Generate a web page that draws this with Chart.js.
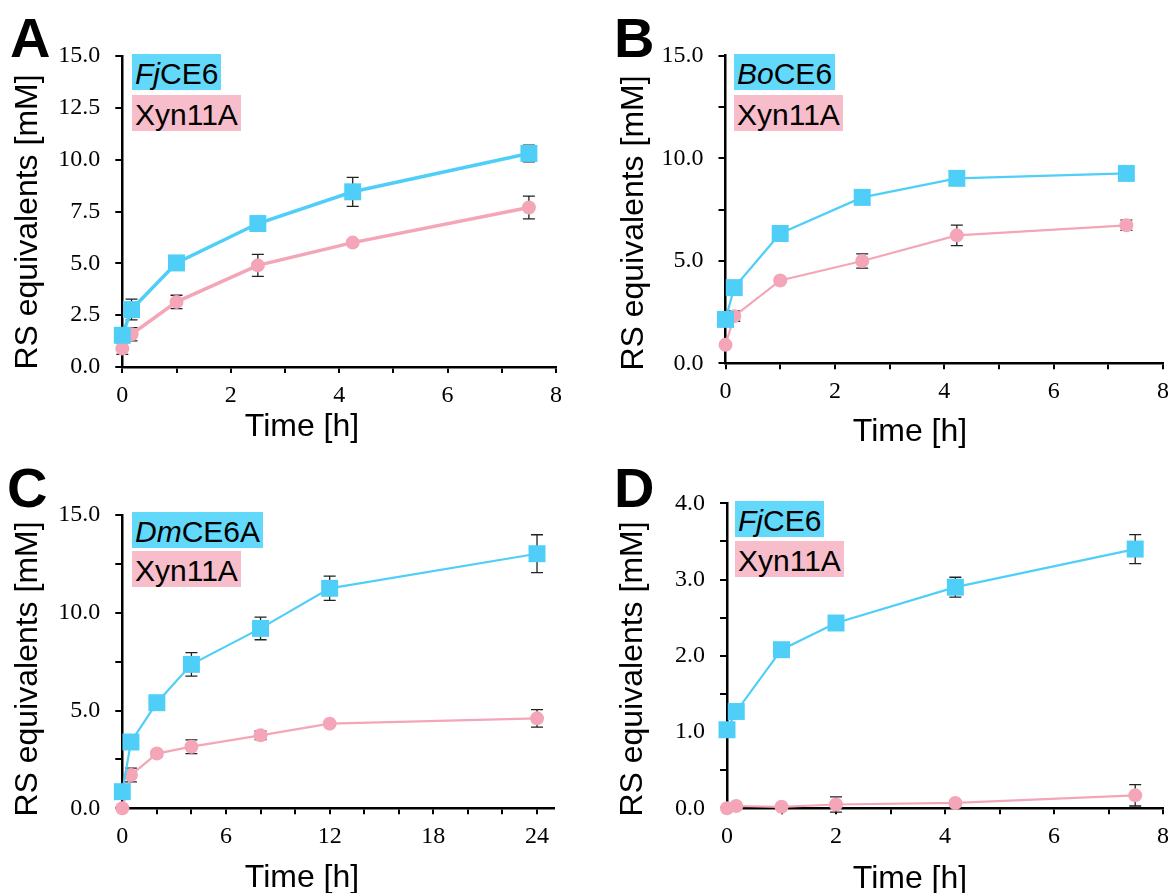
<!DOCTYPE html>
<html>
<head>
<meta charset="utf-8">
<script src="https://cdn.jsdelivr.net/npm/chart.js@4.4.1/dist/chart.umd.min.js"></script>
<style>
    body { margin: 0; background: #fff; }
    #page { position: relative; width: 1175px; height: 893px; overflow: hidden; background: #fff; }
    canvas { position: absolute; }
    .txt { position: absolute; font-family: "Liberation Sans", Arial, sans-serif; color: #000; white-space: nowrap; }
    .letter { font-size: 56px; font-weight: bold; line-height: 1; }
    .tag { font-size: 30px; line-height: 30px; padding: 5px 3px 1px 3px; }
    .blue { background: #62d9fb; }
    .pink { background: #f8bdca; }
    .ytitle { font-size: 32px; line-height: 1; transform: translate(-50%, -50%) rotate(-90deg); }
    .xtitle { font-size: 32px; line-height: 1; transform: translate(-50%, -50%); }
</style>
</head>
<body>
<div id="page">
    <canvas id="chartA" width="587" height="446" style="left:0;top:0"></canvas>
    <canvas id="chartB" width="588" height="446" style="left:587px;top:0"></canvas>
    <canvas id="chartC" width="587" height="447" style="left:0;top:446px"></canvas>
    <canvas id="chartD" width="588" height="447" style="left:587px;top:446px"></canvas>

    <div class="txt letter" style="left:10px;top:10px">A</div>
    <div class="txt letter" style="left:614px;top:10px">B</div>
    <div class="txt letter" style="left:7px;top:460px">C</div>
    <div class="txt letter" style="left:614px;top:460px">D</div>

    <div class="txt tag blue" style="left:132px;top:54px"><i>Fj</i>CE6</div>
    <div class="txt tag pink" style="left:132px;top:95px">Xyn11A</div>
    <div class="txt tag blue" style="left:734px;top:54px"><i>Bo</i>CE6</div>
    <div class="txt tag pink" style="left:734px;top:95px">Xyn11A</div>
    <div class="txt tag blue" style="left:132px;top:512px"><i>Dm</i>CE6A</div>
    <div class="txt tag pink" style="left:132px;top:551px">Xyn11A</div>
    <div class="txt tag blue" style="left:735px;top:501px"><i>Fj</i>CE6</div>
    <div class="txt tag pink" style="left:735px;top:541px">Xyn11A</div>

    <div class="txt ytitle" style="left:26px;top:222px">RS equivalents [mM]</div>
    <div class="txt ytitle" style="left:632px;top:223px">RS equivalents [mM]</div>
    <div class="txt ytitle" style="left:26px;top:669px">RS equivalents [mM]</div>
    <div class="txt ytitle" style="left:631px;top:669px">RS equivalents [mM]</div>

    <div class="txt xtitle" style="left:302px;top:425px">Time [h]</div>
    <div class="txt xtitle" style="left:910px;top:430px">Time [h]</div>
    <div class="txt xtitle" style="left:302px;top:876px">Time [h]</div>
    <div class="txt xtitle" style="left:910px;top:877px">Time [h]</div>
</div>

<script>
// panel A: FjCE6 vs Xyn11A
const timeA = [0, 0.17, 1, 2.5, 4.25, 7.5];
const fjA = [1.53, 2.77, 5.02, 6.92, 8.45, 10.3];
const fjAErr = [0.15, 0.5, 0.2, 0.2, 0.7, 0.4];
const xynA = [0.89, 1.58, 3.14, 4.9, 6.0, 7.69];
const xynAErr = [0.28, 0.32, 0.32, 0.53, 0.12, 0.55];

// panel B: BoCE6 vs Xyn11A
const timeB = [0, 0.16, 1, 2.5, 4.23, 7.33];
const boB = [2.14, 3.69, 6.33, 8.09, 9.02, 9.26];
const boBErr = [0.1, 0.15, 0.15, 0.15, 0.15, 0.1];
const xynB = [0.9, 2.3, 4.04, 4.99, 6.24, 6.73];
const xynBErr = [0.1, 0.25, 0.12, 0.35, 0.5, 0.25];

// panel C: DmCE6A vs Xyn11A (24 h)
const timeC = [0, 0.5, 2, 4, 8, 12, 24];
const dmC = [0.85, 3.39, 5.4, 7.36, 9.2, 11.25, 13.02];
const dmCErr = [0.15, 0.2, 0.2, 0.6, 0.58, 0.62, 0.97];
const xynC = [0, 1.7, 2.8, 3.15, 3.73, 4.33, 4.6];
const xynCErr = [0, 0.35, 0.15, 0.35, 0.22, 0.1, 0.45];

// panel D: FjCE6 vs Xyn11A, low range
const timeD = [0, 0.17, 1, 2, 4.19, 7.49];
const fjD = [1.03, 1.27, 2.08, 2.43, 2.9, 3.4];
const fjDErr = [0.03, 0.03, 0.04, 0.04, 0.13, 0.19];
const xynD = [0, 0.03, 0.02, 0.05, 0.07, 0.17];
const xynDErr = [0, 0.01, 0.02, 0.1, 0.03, 0.14];

// ticks
const xTicks8 = [0, 1, 2, 3, 4, 5, 6, 7, 8];
const xLabels8 = ['0', '', '2', '', '4', '', '6', '', '8'];
const xTicks24 = [0, 2, 4, 6, 8, 10, 12, 14, 16, 18, 20, 22, 24];
const xLabels24 = ['0', '', '', '6', '', '', '12', '', '', '18', '', '', '24'];
const yTicks15 = [0, 2.5, 5, 7.5, 10, 12.5, 15];
const yLabelsA = ['0.0', '2.5', '5.0', '7.5', '10.0', '12.5', '15.0'];
const yLabels15 = ['0.0', '', '5.0', '', '10.0', '', '15.0'];
const yTicks4 = [0, 0.5, 1, 1.5, 2, 2.5, 3, 3.5, 4];
const yLabels4 = ['0.0', '', '1.0', '', '2.0', '', '3.0', '', '4.0'];

const BLUE = '#4fcff8';
const PINK = '#f4a6b8';

const errorBars = {
    id: 'errorBars',
    beforeDatasetsDraw(chart) {
        const ctx = chart.ctx;
        const yScale = chart.scales.y;
        ctx.save();
        ctx.strokeStyle = '#222';
        ctx.lineWidth = 1.3;
        chart.data.datasets.forEach((ds, i) => {
            const meta = chart.getDatasetMeta(i);
            meta.data.forEach((pt, j) => {
                const e = ds.errors[j];
                if (!e) return;
                const v = ds.data[j].y;
                const top = yScale.getPixelForValue(v + e);
                const bot = yScale.getPixelForValue(v - e);
                ctx.beginPath();
                ctx.moveTo(pt.x, top); ctx.lineTo(pt.x, bot);
                ctx.moveTo(pt.x - 6, top); ctx.lineTo(pt.x + 6, top);
                ctx.moveTo(pt.x - 6, bot); ctx.lineTo(pt.x + 6, bot);
                ctx.stroke();
            });
        });
        ctx.restore();
    }
};

function pts(xs, ys) {
    return xs.map((x, i) => ({ x: x, y: ys[i] }));
}

function makePanel(p) {
    const canvas = document.getElementById(p.id);
    const box = { left: canvas.offsetLeft, top: canvas.offsetTop, width: canvas.width, height: canvas.height };
    const tickFont = { family: "'Liberation Serif', 'Times New Roman', serif", size: 24 };

    new Chart(canvas.getContext('2d'), {
        type: 'line',
        data: {
            datasets: [
                {
                    data: pts(p.time, p.blue), errors: p.blueErr,
                    borderColor: BLUE, backgroundColor: BLUE, borderWidth: p.lw,
                    pointStyle: 'rect', pointRadius: 12, pointBackgroundColor: BLUE,
                    pointBorderWidth: 0, tension: 0, clip: false
                },
                {
                    data: pts(p.time, p.pink), errors: p.pinkErr,
                    borderColor: PINK, backgroundColor: PINK, borderWidth: p.lw,
                    pointStyle: 'circle', pointRadius: 7, pointBackgroundColor: PINK,
                    pointBorderWidth: 0, tension: 0, clip: false
                }
            ]
        },
        options: {
            responsive: false,
            animation: false,
            events: [],
            layout: {
                padding: {
                    left: 0, bottom: 0,
                    top: p.plot.t - box.top,
                    right: box.left + box.width - p.plot.r
                }
            },
            plugins: { legend: { display: false }, tooltip: { enabled: false } },
            scales: {
                x: {
                    type: 'linear', min: 0, max: p.xMax,
                    border: { display: true, color: '#000', width: 2.5 },
                    grid: { drawOnChartArea: false, drawTicks: true, tickLength: 6, color: '#000', lineWidth: 2 },
                    ticks: {
                        autoSkip: false, maxRotation: 0, color: '#000', font: tickFont, padding: 8,
                        callback: (v, i) => p.xLabels[i]
                    },
                    afterBuildTicks: s => { s.ticks = p.xTicks.map(v => ({ value: v })); },
                    afterFit: s => {
                        s.height = box.top + box.height - p.plot.b;
                        s.paddingLeft = 0; s.paddingRight = 0;
                    }
                },
                y: {
                    type: 'linear', min: 0, max: p.yMax,
                    border: { display: true, color: '#000', width: 2.5 },
                    grid: { drawOnChartArea: false, drawTicks: true, tickLength: 7, color: '#000', lineWidth: 2 },
                    ticks: {
                        autoSkip: false, color: '#000', font: tickFont, padding: 15,
                        callback: (v, i) => p.yLabels[i]
                    },
                    afterBuildTicks: s => { s.ticks = p.yTicks.map(v => ({ value: v })); },
                    afterFit: s => {
                        s.width = p.plot.l - box.left;
                        s.paddingTop = 0; s.paddingBottom = 0;
                    }
                }
            }
        },
        plugins: [errorBars]
    });
}

makePanel({ id: 'chartA', plot: { l: 122.3, r: 556, t: 56, b: 367 }, lw: 3.5,
    time: timeA, blue: fjA, blueErr: fjAErr, pink: xynA, pinkErr: xynAErr,
    xMax: 8, xTicks: xTicks8, xLabels: xLabels8, yMax: 15, yTicks: yTicks15, yLabels: yLabelsA });

makePanel({ id: 'chartB', plot: { l: 725.5, r: 1168, t: 55.7, b: 363.3 }, lw: 2.2,
    time: timeB, blue: boB, blueErr: boBErr, pink: xynB, pinkErr: xynBErr,
    xMax: 8, xTicks: xTicks8, xLabels: xLabels8, yMax: 15, yTicks: yTicks15, yLabels: yLabels15 });

makePanel({ id: 'chartC', plot: { l: 122.3, r: 554.3, t: 515, b: 808.3 }, lw: 2.2,
    time: timeC, blue: dmC, blueErr: dmCErr, pink: xynC, pinkErr: xynCErr,
    xMax: 25, xTicks: xTicks24, xLabels: xLabels24, yMax: 15, yTicks: yTicks15, yLabels: yLabels15 });

makePanel({ id: 'chartD', plot: { l: 727, r: 1170, t: 503.3, b: 808.3 }, lw: 2.2,
    time: timeD, blue: fjD, blueErr: fjDErr, pink: xynD, pinkErr: xynDErr,
    xMax: 8, xTicks: xTicks8, xLabels: xLabels8, yMax: 4, yTicks: yTicks4, yLabels: yLabels4 });
</script>
</body>
</html>
